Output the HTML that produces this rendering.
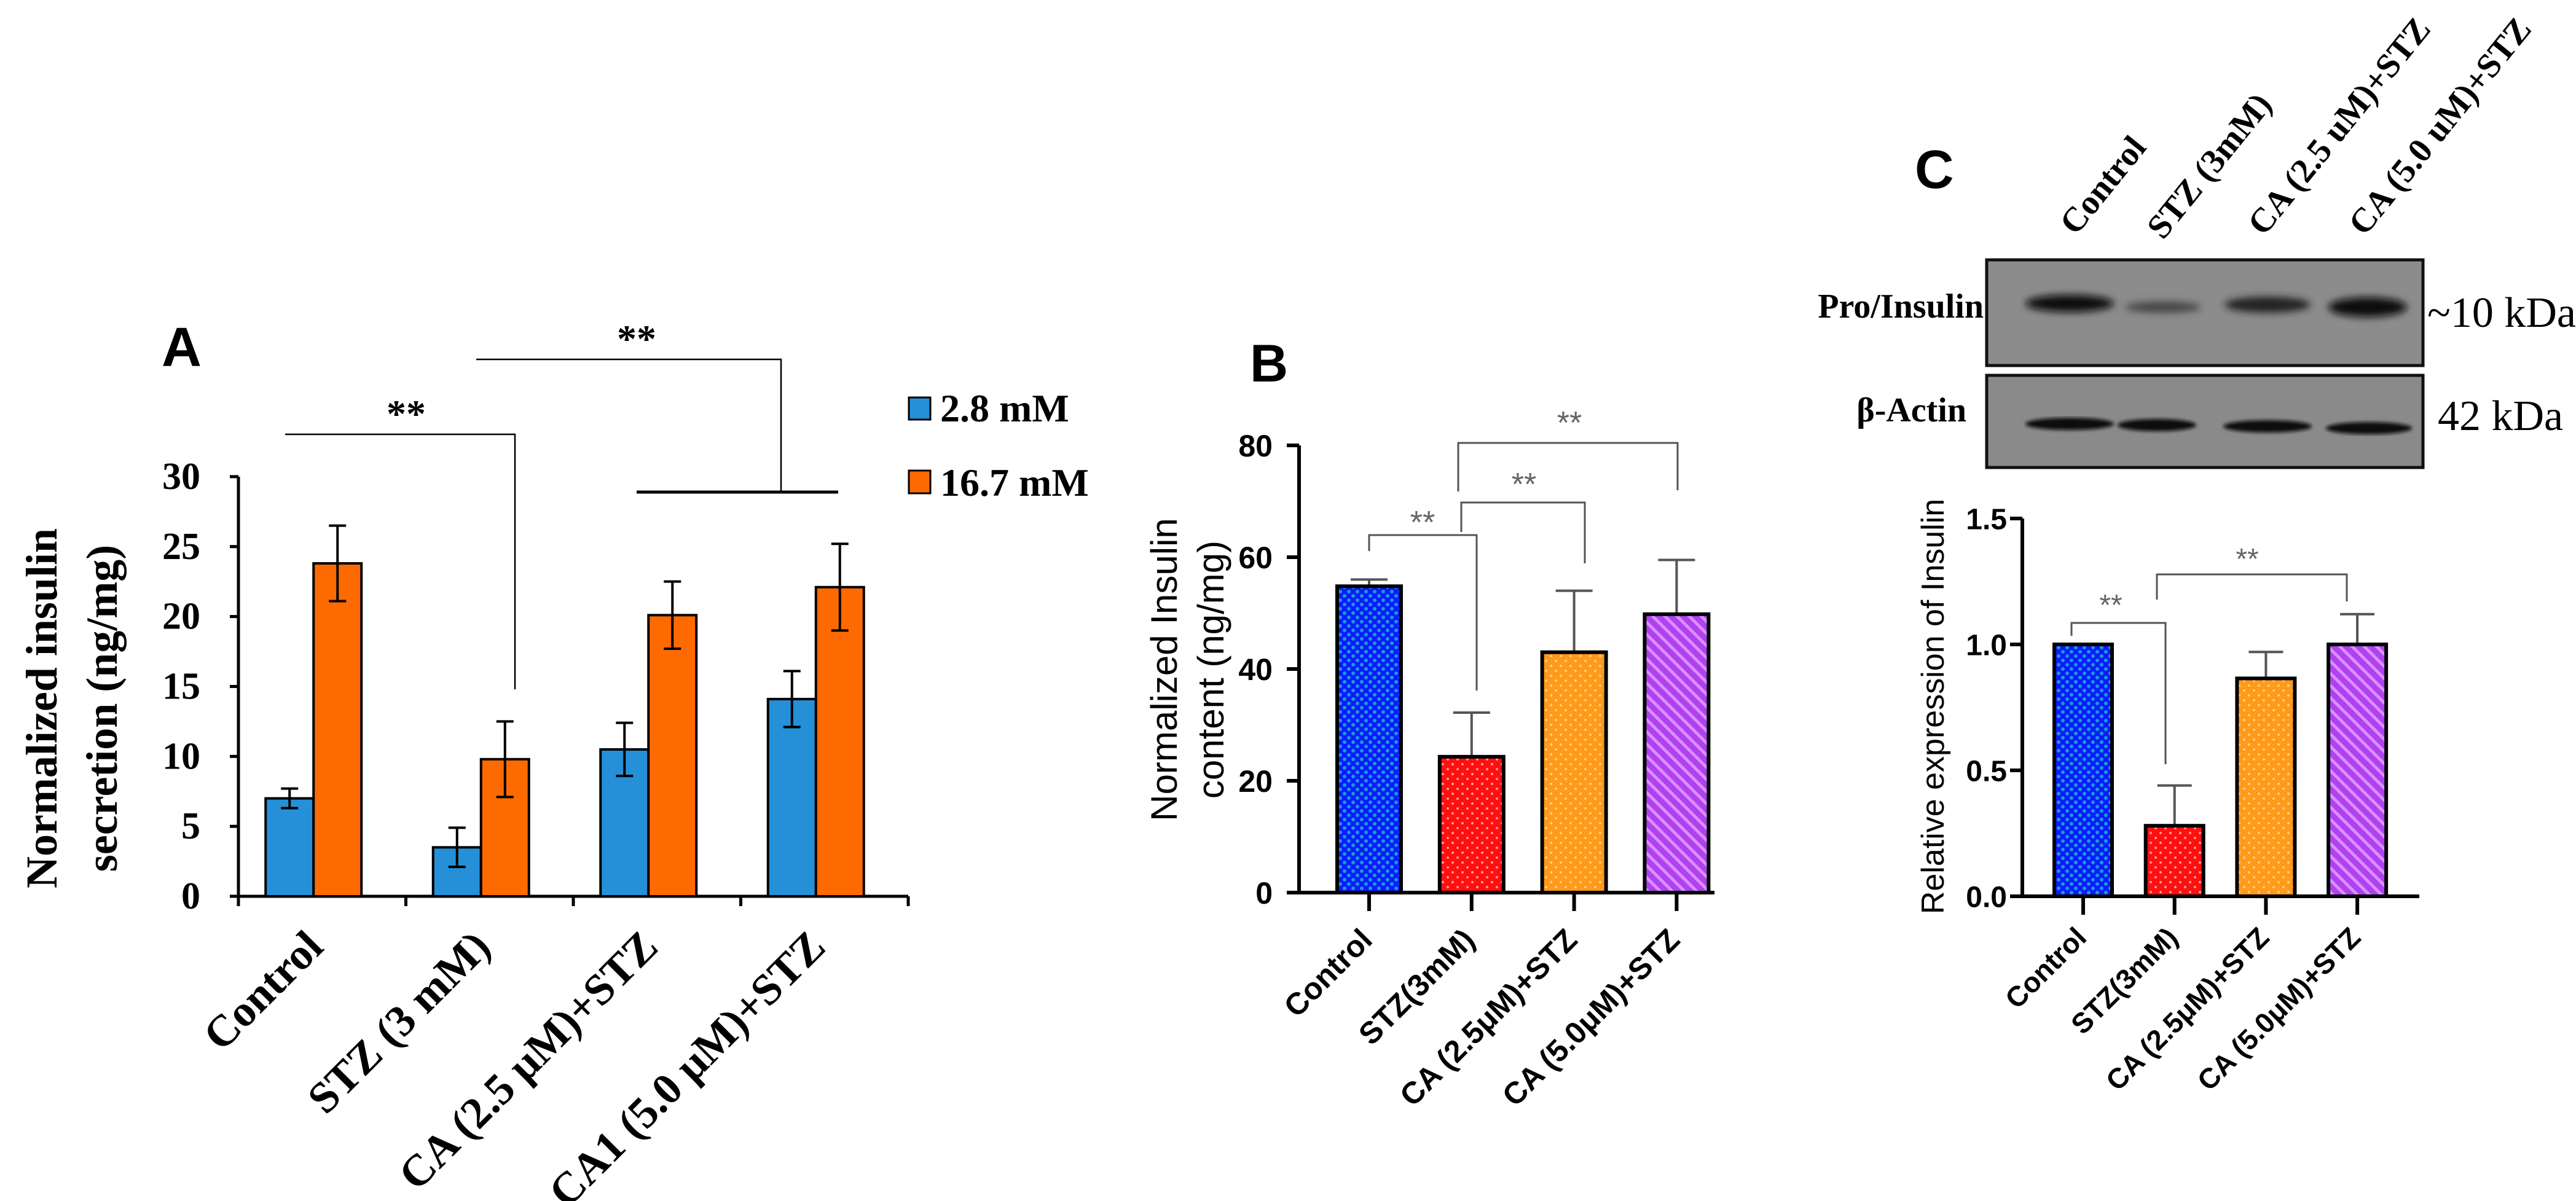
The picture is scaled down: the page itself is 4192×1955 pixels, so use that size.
<!DOCTYPE html>
<html><head><meta charset="utf-8"><style>
html,body{margin:0;padding:0;background:#fff;}
svg{display:block;}
.serif{font-family:"Liberation Serif",serif;}
.sans{font-family:"Liberation Sans",sans-serif;}
</style></head><body>
<svg id="fig" xmlns="http://www.w3.org/2000/svg" width="4192" height="1955" viewBox="0 0 4192 1955">
<defs>
<pattern id="pBlue" width="14" height="14" patternUnits="userSpaceOnUse"><rect width="14" height="14" fill="#0a1cff"/><circle cx="4" cy="4" r="3" fill="#1a9ad8"/><circle cx="11" cy="11" r="3" fill="#1a9ad8"/></pattern>
<pattern id="pRed" width="16" height="16" patternUnits="userSpaceOnUse"><rect width="16" height="16" fill="#ff1010"/><circle cx="4" cy="4" r="2" fill="#ff9a9a"/><circle cx="12" cy="12" r="2" fill="#ff9a9a"/></pattern>
<pattern id="pOrange" width="16" height="16" patternUnits="userSpaceOnUse"><rect width="16" height="16" fill="#ff9a1a"/><circle cx="4" cy="4" r="2" fill="#ffd080"/><circle cx="12" cy="12" r="2" fill="#ffd080"/></pattern>
<pattern id="pPurple" width="14" height="14" patternUnits="userSpaceOnUse" patternTransform="rotate(-45)"><rect width="14" height="14" fill="#b040f0"/><rect width="5" height="14" fill="#d890ff"/></pattern>
<filter id="blur" x="-30%" y="-100%" width="160%" height="300%"><feGaussianBlur stdDeviation="6"/></filter>
<filter id="blur2"><feGaussianBlur stdDeviation="3"/></filter>
</defs>

<!-- Panel A static -->
<text class="sans" x="263" y="596" font-size="90" font-weight="bold">A</text>
<g class="serif" font-weight="bold" font-size="72" text-anchor="middle">
<text transform="translate(92,1153) rotate(-90)">Normalized  insulin</text>
<text transform="translate(190,1153) rotate(-90)">secretion (ng/mg)</text>
</g>
<g class="serif" font-weight="bold" font-size="64">
<rect x="1479" y="647" width="35" height="36" fill="#2590d8" stroke="#000" stroke-width="3"/>
<text x="1530" y="686">2.8 mM</text>
<rect x="1479" y="766" width="35" height="37" fill="#ff6a00" stroke="#000" stroke-width="3"/>
<text x="1530" y="807">16.7 mM</text>
</g>
<g stroke="#000" fill="none">
<polyline points="464,707 838,707 838,1122" stroke-width="2.5"/>
<polyline points="775,585 1271,585 1271,801" stroke-width="2.5"/>
<line x1="1036" y1="801" x2="1364" y2="801" stroke-width="5"/>
</g>
<text class="serif" x="661" y="695" font-size="64" font-weight="bold" text-anchor="middle">**</text>
<text class="serif" x="1036" y="573" font-size="64" font-weight="bold" text-anchor="middle">**</text>
<g id="chartA"></g>

<!-- Panel B static -->
<text class="sans" x="2034" y="621" font-size="86" font-weight="bold">B</text>
<g class="sans" font-size="60" text-anchor="middle">
<text transform="translate(1915,1090) rotate(-90)">Normalized Insulin</text>
<text transform="translate(1991,1090) rotate(-90)">content (ng/mg)</text>
</g>
<g stroke="#555" fill="none" stroke-width="3">
<polyline points="2228,897 2228,871 2403,871 2403,1124"/>
<polyline points="2378,866 2378,818 2579,818 2579,917"/>
<polyline points="2373,800 2373,721 2730,721 2730,798"/>
</g>
<g class="sans" font-size="52" fill="#666" text-anchor="middle">
<text x="2315" y="868">**</text>
<text x="2480" y="806">**</text>
<text x="2554" y="706">**</text>
</g>
<g id="chartB"></g>

<!-- Panel C static -->
<text class="sans" x="3116" y="306" font-size="88" font-weight="bold">C</text>
<g class="serif" font-weight="bold" font-size="56">
<text transform="translate(3378,385) rotate(-51)">Control</text>
<text transform="translate(3520,392) rotate(-51)">STZ (3mM)</text>
<text transform="translate(3684,386) rotate(-51)">CA (2.5 uM)+STZ</text>
<text transform="translate(3848,386) rotate(-51)">CA (5.0 uM)+STZ</text>
</g>
<g>
<rect x="3233" y="423" width="710" height="172" fill="#8c8c8c" stroke="#111" stroke-width="5"/>
<g filter="url(#blur)" fill="#0a0a0a">
<ellipse cx="3368" cy="494" rx="72" ry="14"/>
<ellipse cx="3520" cy="500" rx="62" ry="9" fill="#444"/>
<ellipse cx="3690" cy="496" rx="70" ry="13" fill="#222"/>
<ellipse cx="3853" cy="500" rx="64" ry="16"/>
</g>
</g>
<g>
<rect x="3233" y="611" width="710" height="150" fill="#8a8a8a" stroke="#111" stroke-width="5"/>
<g filter="url(#blur2)" fill="#111">
<ellipse cx="3368" cy="690" rx="72" ry="10"/>
<ellipse cx="3510" cy="692" rx="64" ry="10"/>
<ellipse cx="3690" cy="694" rx="72" ry="10"/>
<ellipse cx="3855" cy="697" rx="70" ry="10"/>
</g>
</g>
<g class="serif" font-size="70">
<text x="3228" y="517" font-weight="bold" font-size="56" text-anchor="end">Pro/Insulin</text>
<text x="3200" y="686" font-weight="bold" font-size="56" text-anchor="end">β-Actin</text>
<text x="3950" y="532">~10 kDa</text>
<text x="3967" y="700">42 kDa</text>
</g>
<text class="sans" font-size="52" text-anchor="middle" transform="translate(3163,1150) rotate(-90)">Relative expression of Insulin</text>
<g stroke="#555" fill="none" stroke-width="3">
<polyline points="3371,1035 3371,1014 3524,1014 3524,1244"/>
<polyline points="3510,976 3510,935 3819,935 3819,979"/>
</g>
<g class="sans" font-size="48" fill="#666" text-anchor="middle">
<text x="3435" y="1001">**</text>
<text x="3657" y="926">**</text>
</g>
<g id="chartC"></g>
</svg>
<script>
// ---- Panel A data ----
var aCats = ["Control", "STZ (3 mM)", "CA (2.5 \u03bcM)+STZ", "CA1 (5.0 \u03bcM)+STZ"];
var aLow = [7.0, 3.5, 10.5, 14.1];
var aLowErr = [0.7, 1.4, 1.9, 2.0];
var aHigh = [23.8, 9.8, 20.1, 22.1];
var aHighErr = [2.7, 2.7, 2.4, 3.1];
var aTicks = [0, 5, 10, 15, 20, 25, 30];
// ---- Panel B data ----
var bCats = ["Control", "STZ(3mM)", "CA (2.5\u03bcM)+STZ", "CA (5.0\u03bcM)+STZ"];
var bVals = [54.8, 24.3, 43.0, 49.8];
var bErr = [1.2, 7.9, 11.0, 9.7];
var bTicks = [0, 20, 40, 60, 80];
// ---- Panel C data ----
var cCats = ["Control", "STZ(3mM)", "CA (2.5\u03bcM)+STZ", "CA (5.0\u03bcM)+STZ"];
var cVals = [1.0, 0.28, 0.865, 1.0];
var cErr = [0, 0.16, 0.105, 0.12];
var cTickVals = [0, 0.5, 1.0, 1.5];
var cTickLabels = ["0.0", "0.5", "1.0", "1.5"];

var NS = "http://www.w3.org/2000/svg";
function mk(parent, tag, attrs, txt) {
  var e = document.createElementNS(NS, tag);
  for (var k in attrs) e.setAttribute(k, attrs[k]);
  if (txt !== undefined) e.textContent = txt;
  parent.appendChild(e);
  return e;
}
var fills = ["url(#pBlue)", "url(#pRed)", "url(#pOrange)", "url(#pPurple)"];

// ---------- Panel A ----------
(function () {
  var g = document.getElementById("chartA");
  var x0 = 388, x1 = 1478, y0 = 1459, ppu = 22.77;
  var gw = (x1 - x0) / aCats.length, bw = 78;
  function y(v) { return y0 - v * ppu; }
  function cx(i) { return x0 + gw * (i + 0.5) - 14; }
  var ax = mk(g, "path", {d: "M" + x0 + "," + y(30) + " V" + y0 + " H" + x1, stroke: "#000", "stroke-width": 5, fill: "none"});
  
  
  aTicks.forEach(function (t) {
    var tk = mk(g, "line", {x1: x0 - 14, x2: x0, y1: y(t), y2: y(t), stroke: "#000", "stroke-width": 5});
    
    
    var tl = mk(g, "text", {x: 326, y: y(t) + 20, "text-anchor": "end", "font-size": 62, "font-weight": "bold", "font-family": "Liberation Serif, serif"}, String(t));
    
    
  });
  for (var i = 0; i <= aCats.length; i++) {
    var xt = x0 + gw * i;
    var xk = mk(g, "line", {x1: xt, x2: xt, y1: y0, y2: y0 + 16, stroke: "#000", "stroke-width": 5});
    
    
  }
  aCats.forEach(function (c, i) {
    var c0 = cx(i);
    var b1 = mk(g, "rect", {x: c0 - bw, y: y(aLow[i]), width: bw, height: y0 - y(aLow[i]), fill: "#2590d8", stroke: "#000", "stroke-width": 4});
    
    
    var b2 = mk(g, "rect", {x: c0, y: y(aHigh[i]), width: bw, height: y0 - y(aHigh[i]), fill: "#ff6a00", stroke: "#000", "stroke-width": 4});
    
    
    [[c0 - bw / 2, aLow[i], aLowErr[i]], [c0 + bw / 2, aHigh[i], aHighErr[i]]].forEach(function (e) {
      var p = "M" + e[0] + "," + y(e[1] - e[2]) + " V" + y(e[1] + e[2]) +
        " M" + (e[0] - 14) + "," + y(e[1] + e[2]) + " H" + (e[0] + 14) +
        " M" + (e[0] - 14) + "," + y(e[1] - e[2]) + " H" + (e[0] + 14);
      var eb = mk(g, "path", {d: p, stroke: "#000", "stroke-width": 4, fill: "none"});
      
      
    });
    var lx = x0 + gw * (i + 0.5) + 5;
    var lb = mk(g, "text", {transform: "translate(" + lx + ",1545) rotate(-45)", "text-anchor": "end", "font-size": 72, "font-weight": "bold", "font-family": "Liberation Serif, serif"}, c);
    
    
  });
})();

// ---------- Generic B/C ----------
function drawPanel(id, cats, vals, errs, tickVals, tickLabels, cfg) {
  var g = document.getElementById(id);
  function y(v) { return cfg.y0 - v * cfg.ppu; }
  var ax = mk(g, "path", {d: "M" + cfg.x0 + "," + y(tickVals[tickVals.length - 1]) + " V" + cfg.y0 + " H" + cfg.x1, stroke: "#000", "stroke-width": 6, fill: "none"});
  
  
  tickVals.forEach(function (t, k) {
    var tk = mk(g, "line", {x1: cfg.x0 - 20, x2: cfg.x0, y1: y(t), y2: y(t), stroke: "#000", "stroke-width": 6});
    
    
    var tl = mk(g, "text", {x: cfg.labelX, y: y(t) + cfg.fs * 0.36, "text-anchor": "end", "font-size": cfg.fs, "font-weight": "bold", "font-family": "Liberation Sans, sans-serif"}, tickLabels[k]);
    
    
  });
  cats.forEach(function (c, i) {
    var cx = cfg.c0 + cfg.step * i;
    var xk = mk(g, "line", {x1: cx, x2: cx, y1: cfg.y0, y2: cfg.y0 + 30, stroke: "#000", "stroke-width": 6});
    
    
    var top = vals[i] + errs[i];
    if (errs[i] > 0) {
      var eb = mk(g, "path", {d: "M" + cx + "," + y(vals[i]) + " V" + y(top) + " M" + (cx - cfg.cap) + "," + y(top) + " H" + (cx + cfg.cap), stroke: "#555", "stroke-width": 4, fill: "none"});
      
      
    }
    var b = mk(g, "rect", {x: cx - cfg.bw / 2, y: y(vals[i]), width: cfg.bw, height: cfg.y0 - y(vals[i]), fill: fills[i], stroke: "#000", "stroke-width": 6});
    
    
    var lb = mk(g, "text", {transform: "translate(" + (cx + 8) + "," + (cfg.y0 + cfg.lblDy) + ") rotate(-45)", "text-anchor": "end", "font-size": cfg.lfs, "font-weight": "bold", "font-family": "Liberation Sans, sans-serif"}, c);
    
    
  });
}
drawPanel("chartB", bCats, bVals, bErr, bTicks, bTicks.map(String),
  {name: "panel-b", x0: 2114, x1: 2790, y0: 1453, ppu: 9.1, c0: 2228, step: 166.8, bw: 104, cap: 30, labelX: 2071, fs: 50, lfs: 50, lblDy: 80});
drawPanel("chartC", cCats, cVals, cErr, cTickVals, cTickLabels,
  {name: "panel-c", x0: 3291, x1: 3937, y0: 1459, ppu: 410, c0: 3390, step: 148.7, bw: 94, cap: 28, labelX: 3266, fs: 48, lfs: 46, lblDy: 70});
</script>
</body></html>
